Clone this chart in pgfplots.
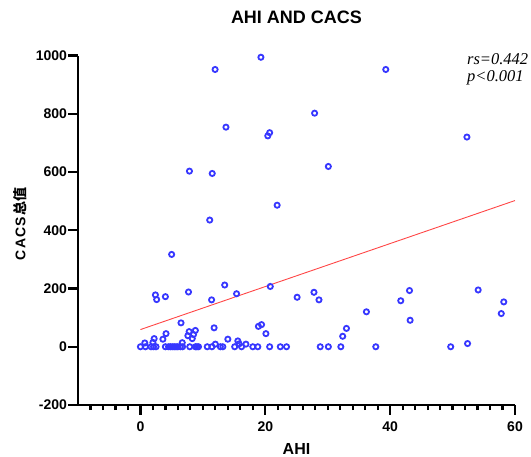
\documentclass[border=0pt]{standalone}
\usepackage{pgfplots}
\pgfplotsset{compat=1.18}
\usepackage{fontspec}
\setmainfont{Liberation Sans}
\newfontfamily\cjk{Noto Sans CJK SC}
\newfontfamily\tnr{Liberation Serif}
\definecolor{ptblue}{RGB}{55,55,255}
\definecolor{fitred}{RGB}{255,70,70}

% AHI vs CACS
\pgfplotstableread{
x y
11.96 952
19.3 994
39.3 952
27.9 802
13.7 754
20.7 735
20.4 724
52.3 720
30.1 619
7.85 603
11.5 595
21.9 486
11.1 435
5.0 317
13.5 212
20.8 207
2.4 178
2.6 162
4.0 172
7.7 188
11.4 161
15.4 182
25.1 170
27.8 187
28.6 161
36.2 120
41.7 158
43.1 193
43.2 91
54.1 195
58.2 154
57.8 114
52.4 11
33.0 63
32.4 36
6.5 82
2.2 28
2.0 15
0.7 13
4.1 45
3.6 26
11.8 65
7.6 38
7.8 52
8.3 28
8.5 42
8.8 56
6.7 14
12.0 9
14.0 26
15.6 20
15.8 10
16.9 9
18.9 70
19.4 76
20.1 45
0.0 0
0.8 0
1.7 0
2.1 0
2.5 0
4.0 0
4.5 0
4.8 0
5.1 0
5.4 0
5.7 0
6.0 0
6.4 0
6.75 0
7.9 0
8.8 0
9.05 0
9.3 0
10.7 0
11.45 0
12.8 0
13.2 0
15.1 0
16.2 0
18.0 0
18.8 0
20.7 0
22.4 0
23.4 0
28.8 0
30.1 0
32.1 0
37.7 0
49.7 0
}\ahidata

\begin{document}
\begin{tikzpicture}
\begin{axis}[
  name=ax,
  scale only axis,
  width=437pt, height=349.5pt,
  xmin=-10, xmax=60, ymin=-200, ymax=1000,
  axis x line*=bottom, axis y line*=left,
  axis line style={line width=2.6pt, black},
  xtick={0,20,40,60},
  minor xtick={-8,-6,...,58},
  ytick={-200,0,...,1000},
  tick align=outside,
  tick style={line width=2.2pt, black},
  major tick length=9.5pt,
  minor tick length=5pt,
  /pgf/number format/assume math mode=true,
  /pgf/number format/1000 sep={},
  ticklabel style={font=\bfseries\fontsize{14}{14}\selectfont},
  yticklabel style={xshift=2pt},
  xticklabel style={yshift=-4pt},
  title={AHI AND CACS},
  title style={font=\bfseries\fontsize{18}{18}\selectfont, at={(0.5,1)}, anchor=base, yshift=26pt},
  xlabel={AHI},
  xlabel style={font=\bfseries\fontsize{16}{16}\selectfont, at={(axis description cs:0.5,0)}, anchor=base, yshift=-49pt},
  ylabel={C\hspace{1.2pt}A\hspace{1.2pt}C\hspace{1.2pt}S\hspace{1.5pt}{\cjk 总值}},
  ylabel style={font=\bfseries\fontsize{14}{14}\selectfont, at={(axis description cs:-0.1327,0.519)}, anchor=center},
  clip=false,
]
\addplot[only marks, mark=o, mark size=2.6pt, ptblue, mark options={line width=1.8pt}]
  table[x=x, y=y] {\ahidata};
\addplot[fitred, line width=0.9pt] coordinates {(0,59) (60,502)};
\node[anchor=north west, font=\tnr\itshape\fontsize{16.5}{17}\selectfont, align=left, inner sep=0pt]
  at (axis cs:52.3,1008) {rs=0.442\\p<0.001};
\end{axis}
\pgfresetboundingbox
\path[use as bounding box] ([shift={(-78pt,-51pt)}]ax.south west) rectangle ([shift={(16pt,55.5pt)}]ax.north east);
\end{tikzpicture}
\end{document}
